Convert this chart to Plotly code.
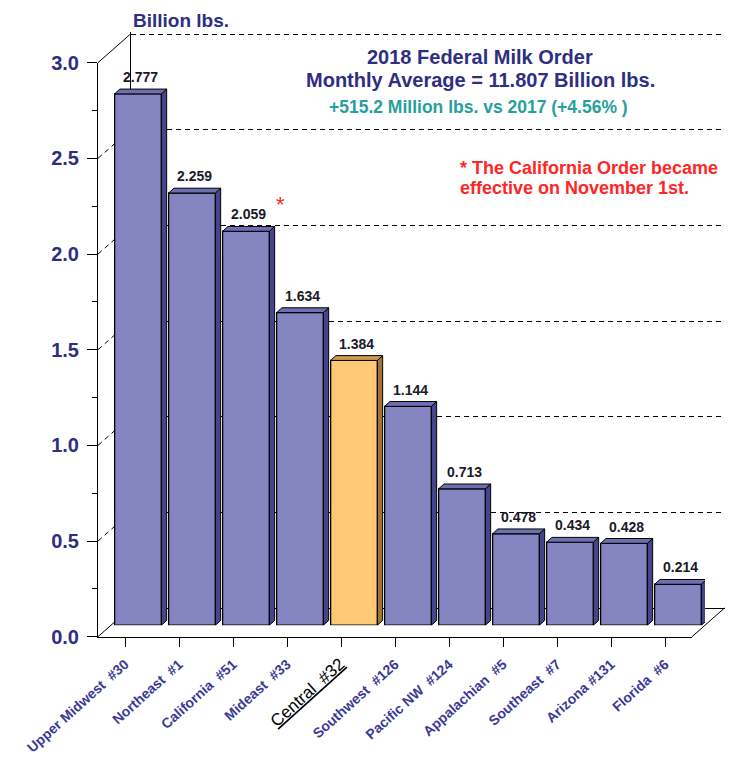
import plotly.graph_objects as go

# ---------------- data ----------------
categories = ["Upper Midwest  #30", "Northeast  #1", "California  #51", "Mideast  #33",
              "Central  #32", "Southwest  #126", "Pacific NW  #124", "Appalachian  #5",
              "Southeast  #7", "Arizona #131", "Florida  #6"]
values = [2.777, 2.259, 2.059, 1.634, 1.384, 1.144, 0.713, 0.478, 0.434, 0.428, 0.214]
highlight = "Central  #32"
starred = "California  #51"
y_ticks = [0.0, 0.5, 1.0, 1.5, 2.0, 2.5, 3.0]
y_tick_text = ["0.0", "0.5", "1.0", "1.5", "2.0", "2.5", "3.0"]
y_max = 3.0

title_line1 = "2018 Federal Milk Order"
title_line2 = "Monthly Average = 11.807 Billion lbs."
subtitle = "+515.2 Million lbs. vs 2017 (+4.56% )"
note_line1 = "* The California Order became"
note_line2 = "effective on November 1st."
y_title = "Billion lbs."

# ---------------- styling / geometry ----------------
W, H = 740, 761
OX, OY = 8, 8               # page offset of the figure (body margin)
FW, FH = W - OX, H - OY
FX0, FX1 = 98, 692          # front plane x extent (px)
FY0, FYT = 636.7, 62.7      # front plane y of 0 and of y_max (px)
DX, DY = 32.5, 28.7         # full depth offset (px)
BAR_PLANE = 0.40            # bars sit at this fraction of depth
BDX, BDY = 5.3, 4.8         # bar thickness (px)
BAR_W = 0.865
TOP_PAD = 2.5               # px of extra range so the top grid line is kept

NAVY = "#2E2E82"
TEAL = "#26A09C"
RED = "#FF2626"
BAR_FRONT = "#8585C2"
BAR_TOP = "#6E6EB2"
BAR_SIDE = "#45458C"
HI_FRONT = "#FFC875"
HI_TOP = "#D09A4E"
HI_SIDE = "#A07434"
FONT = "Liberation Sans, Arial, sans-serif"

n = len(categories)
xs = list(range(n))
unit_x = (FX1 - FX0) / n
unit_y = (FY0 - FYT) / y_max
ddx = BDX / unit_x
ddy = BDY / unit_y
h = BAR_W / 2


def px(x):
    return (x - OX) / FW


def py(y):
    return 1 - (y - OY) / FH


def dom(ox, oy, top_extra=0.0):
    return [px(FX0 + ox), px(FX1 + ox)], [py(FY0 - oy), py(FYT - oy - top_extra)]


bx, by = dom(DX, DY, TOP_PAD)
mx, my = dom(DX * BAR_PLANE, DY * BAR_PLANE)
fx, fy = dom(0, 0)
xr = [-0.5, n - 0.5]
yr = [0, y_max]
yr_back = [0, y_max + TOP_PAD / unit_y]

fig = go.Figure()

# placeholder traces so the back-wall and front-plane subplots get drawn
fig.add_trace(go.Scatter(x=[None], y=[None], xaxis="x", yaxis="y",
                         hoverinfo="skip", showlegend=False))
fig.add_trace(go.Scatter(x=[None], y=[None], xaxis="x3", yaxis="y3",
                         hoverinfo="skip", showlegend=False))

# front faces of bars
front_colors = [HI_FRONT if c == highlight else BAR_FRONT for c in categories]
fig.add_trace(go.Bar(x=xs, y=values, width=BAR_W, xaxis="x2", yaxis="y2",
                     marker=dict(color=front_colors, line=dict(color="black", width=1.3)),
                     hoverinfo="skip", showlegend=False))

# side and top faces
for c, x, v in zip(categories, xs, values):
    side_col = HI_SIDE if c == highlight else BAR_SIDE
    top_col = HI_TOP if c == highlight else BAR_TOP
    fig.add_trace(go.Scatter(
        x=[x + h, x + h + ddx, x + h + ddx, x + h, x + h],
        y=[0, ddy, v + ddy, v, 0], xaxis="x2", yaxis="y2",
        mode="lines", fill="toself", fillcolor=side_col,
        line=dict(color="black", width=1), hoverinfo="skip", showlegend=False))
    fig.add_trace(go.Scatter(
        x=[x - h, x - h + ddx, x + h + ddx, x + h, x - h],
        y=[v, v + ddy, v + ddy, v, v], xaxis="x2", yaxis="y2",
        mode="lines", fill="toself", fillcolor=top_col,
        line=dict(color="black", width=1), hoverinfo="skip", showlegend=False))

annotations = []
for c, x, v in zip(categories, xs, values):
    annotations.append(dict(x=x + ddx / 2, y=v + ddy, xref="x2", yref="y2",
                            text=f"<b>{v:.3f}</b>", showarrow=False, yanchor="middle",
                            yshift=12, font=dict(family=FONT, size=14, color="#1a1a2a")))
    if c == starred:
        annotations.append(dict(x=x, y=v + ddy, xref="x2", yref="y2", text="*",
                                showarrow=False, xshift=34, yshift=22,
                                font=dict(family=FONT, size=22, color=RED)))

annotations += [
    dict(x=px(131), y=1.0, xref="paper", yref="paper", xanchor="left", yanchor="top",
         text=f"<b>{y_title}</b>", showarrow=False, font=dict(family=FONT, size=19, color=NAVY)),
    dict(x=px(480), y=py(57), xref="paper", yref="paper", xanchor="center", yanchor="middle",
         text=f"<b>{title_line1}</b>", showarrow=False, font=dict(family=FONT, size=20, color=NAVY)),
    dict(x=px(480), y=py(80), xref="paper", yref="paper", xanchor="center", yanchor="middle",
         text=f"<b>{title_line2}</b>", showarrow=False, font=dict(family=FONT, size=20, color=NAVY)),
    dict(x=px(478), y=py(107), xref="paper", yref="paper", xanchor="center", yanchor="middle",
         text=f"<b>{subtitle}</b>", showarrow=False, font=dict(family=FONT, size=17.5, color=TEAL)),
    dict(x=px(458), y=py(168), xref="paper", yref="paper", xanchor="left", yanchor="middle",
         text=f"<b>{note_line1}</b>", showarrow=False, font=dict(family=FONT, size=18, color=RED)),
    dict(x=px(458), y=py(188), xref="paper", yref="paper", xanchor="left", yanchor="middle",
         text=f"<b>{note_line2}</b>", showarrow=False, font=dict(family=FONT, size=18, color=RED)),
]

# frame lines connecting front plane to back wall
shapes = []


def fy_px(v):
    return FY0 - v * unit_y


shapes.append(dict(type="line", xref="paper", yref="paper", layer="below",
                   x0=px(FX0), y0=py(FY0), x1=px(FX0 + DX), y1=py(FY0 - DY),
                   line=dict(color="black", width=1)))
shapes.append(dict(type="line", xref="paper", yref="paper", layer="below",
                   x0=px(FX1), y0=py(FY0), x1=px(FX1 + DX), y1=py(FY0 - DY),
                   line=dict(color="black", width=1)))
for t in y_ticks[1:]:
    shapes.append(dict(type="line", xref="paper", yref="paper", layer="below",
                       x0=px(FX0), y0=py(fy_px(t)), x1=px(FX0 + DX), y1=py(fy_px(t) - DY),
                       line=dict(color="black", width=1,
                                 dash="solid" if t == y_max else "5px,4px")))

tick_text_x = []
for c in categories:
    if c == highlight:
        tick_text_x.append(f"<span style='font-size:17px;color:black;font-weight:normal'><u>{c}</u></span>")
    else:
        tick_text_x.append(c)

fig.update_layout(
    width=FW, height=FH, margin=dict(l=0, r=0, t=0, b=0, autoexpand=False),
    paper_bgcolor="white", plot_bgcolor="rgba(0,0,0,0)",
    showlegend=False, annotations=annotations, shapes=shapes,
    # back wall
    xaxis=dict(domain=bx, range=xr, anchor="y", showgrid=False, zeroline=False, automargin=False,
               showline=True, linecolor="black", linewidth=1, showticklabels=False, ticks=""),
    yaxis=dict(domain=by, range=yr_back, anchor="x", showgrid=True, gridcolor="black",
               gridwidth=1, griddash="5px,4px", tickvals=y_ticks[1:], zeroline=False,
               automargin=False,
               showline=True, linecolor="black", linewidth=1, showticklabels=False, ticks=""),
    # bar plane
    xaxis2=dict(domain=mx, range=xr, anchor="y2", visible=False, automargin=False),
    yaxis2=dict(domain=my, range=yr, anchor="x2", visible=False, automargin=False),
    # front plane
    xaxis3=dict(domain=fx, range=xr, anchor="y3", showgrid=False, zeroline=False,
                automargin=False, showline=True, linecolor="black", linewidth=1,
                tickvals=xs, ticktext=tick_text_x, tickangle=-42,
                ticks="outside", ticklen=9, tickcolor="black", ticklabelstandoff=4,
                tickfont=dict(family=FONT, size=14, color="#3A3A95", weight="bold")),
    yaxis3=dict(domain=fy, range=yr, anchor="x3", showgrid=False, zeroline=False,
                automargin=False, showline=True, linecolor="black", linewidth=1,
                tickvals=y_ticks, ticktext=y_tick_text,
                ticks="outside", ticklen=10, tickcolor="black", ticklabelstandoff=4,
                minor=dict(dtick=0.25, ticks="outside", ticklen=5, tickcolor="black"),
                tickfont=dict(family=FONT, size=20, color=NAVY, weight="bold")),
)

fig.write_html("out.html")
